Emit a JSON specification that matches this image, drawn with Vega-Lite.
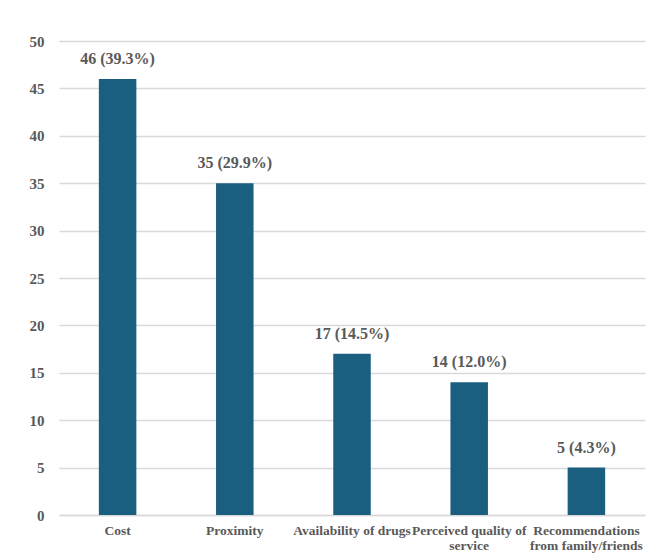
{
  "$schema": "https://vega.github.io/schema/vega-lite/v6.json",
  "autosize": "none",
  "width": 586,
  "height": 474,
  "padding": {"left": 59, "top": 41, "right": 18, "bottom": 45},
  "background": "white",
  "view": {"stroke": null},
  "config": {
    "font": "Liberation Serif",
    "axis": {"labelFont": "Liberation Serif", "labelFontWeight": "bold", "labelColor": "#595959"}
  },
  "data": {
    "values": [
      {"category": "Cost", "count": 46, "label": "46 (39.3%)"},
      {"category": "Proximity", "count": 35, "label": "35 (29.9%)"},
      {"category": "Availability of drugs", "count": 17, "label": "17 (14.5%)"},
      {"category": "Perceived quality of service", "count": 14, "label": "14 (12.0%)"},
      {"category": "Recommendations from family/friends", "count": 5, "label": "5 (4.3%)"}
    ]
  },
  "encoding": {
    "x": {
      "field": "category",
      "type": "nominal",
      "sort": null,
      "scale": {"paddingInner": 0.68, "paddingOuter": 0.34},
      "axis": {
        "title": null,
        "labelAngle": 0,
        "labelFontSize": 13.5,
        "labelPadding": 8,
        "labelLimit": 200,
        "ticks": false,
        "domainColor": "#d9d9d9",
        "domainWidth": 1.5,
        "labelExpr": "datum.value == 'Perceived quality of service' ? ['Perceived quality of', 'service'] : datum.value == 'Recommendations from family/friends' ? ['Recommendations', 'from family/friends'] : datum.value"
      }
    },
    "y": {
      "field": "count",
      "type": "quantitative",
      "scale": {"domain": [0, 50]},
      "axis": {
        "title": null,
        "values": [0, 5, 10, 15, 20, 25, 30, 35, 40, 45, 50],
        "labelFontSize": 15,
        "labelPadding": 15,
        "ticks": false,
        "domain": false,
        "gridColor": "#d9d9d9",
        "gridWidth": 1.5
      }
    }
  },
  "layer": [
    {"mark": {"type": "bar", "color": "#1a5e80"}},
    {
      "mark": {"type": "text", "baseline": "bottom", "dy": -12, "fontSize": 16, "fontWeight": "bold", "color": "#595959", "font": "Liberation Serif"},
      "encoding": {"text": {"field": "label"}}
    }
  ]
}
